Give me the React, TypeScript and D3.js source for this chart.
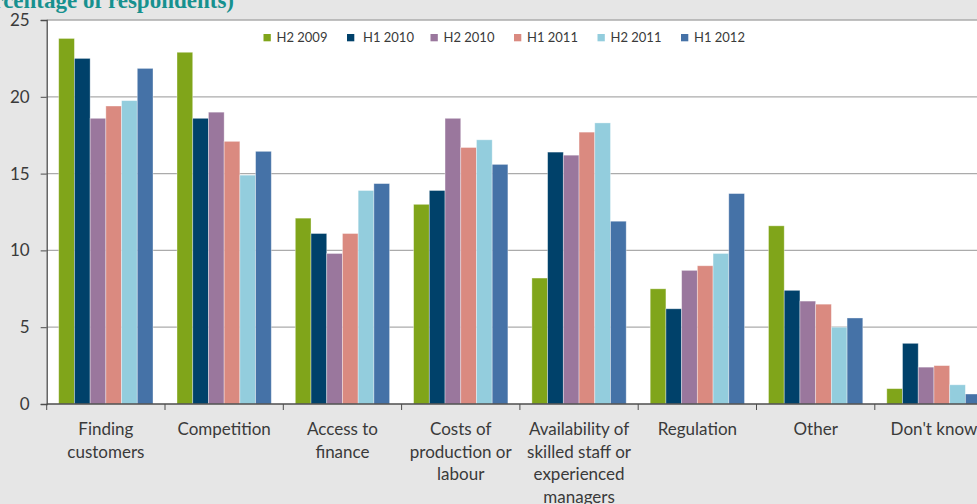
import React, { useRef, useEffect } from 'react';
import * as d3 from 'd3';

const categories = [
  ['Finding', 'customers'],
  ['Competition'],
  ['Access to', 'finance'],
  ['Costs of', 'production or', 'labour'],
  ['Availability of', 'skilled staff or', 'experienced', 'managers'],
  ['Regulation'],
  ['Other'],
  ["Don't know"],
];

const seriesNames = ['H2 2009', 'H1 2010', 'H2 2010', 'H1 2011', 'H2 2011', 'H1 2012'];
const seriesColors = ['#80A51A', '#00416A', '#9A779D', '#DA8A80', '#93CDDD', '#4572A7'];

const h2_2009 = [23.8, 22.9, 12.1, 13.0, 8.2, 7.5, 11.6, 1.0];
const h1_2010 = [22.5, 18.6, 11.1, 13.9, 16.4, 6.2, 7.4, 3.95];
const h2_2010 = [18.6, 19.0, 9.8, 18.6, 16.2, 8.7, 6.7, 2.4];
const h1_2011 = [19.4, 17.1, 11.1, 16.7, 17.7, 9.0, 6.5, 2.5];
const h2_2011 = [19.75, 14.9, 13.9, 17.2, 18.3, 9.8, 5.0, 1.25];
const h1_2012 = [21.85, 16.45, 14.35, 15.6, 11.9, 13.7, 5.6, 0.65];

const yTicks = [0, 5, 10, 15, 20, 25];

const allSeries = [h2_2009, h1_2010, h2_2010, h1_2011, h2_2011, h1_2012];

const W = 977;
const H = 504;

const App = () => {
  const svgRef = useRef(null);

  useEffect(() => {
    const svg = d3.select(svgRef.current);
    svg.selectAll('*').remove();

    const left = 46.7;
    const top = 20;
    const bottom = 404;
    const catW = 118.3;
    const right = left + catW * categories.length;

    const x0 = d3.scaleBand()
      .domain(categories.map((c, i) => String(i)))
      .range([left, right])
      .padding(0);
    const inner = 12;
    const x1 = d3.scaleBand()
      .domain(seriesNames)
      .range([inner, x0.bandwidth() - inner])
      .padding(0);
    const y = d3.scaleLinear().domain([0, 25]).range([bottom, top]);

    svg.append('rect').attr('width', W).attr('height', H).attr('fill', '#E6E6E6');
    svg.append('rect')
      .attr('x', left).attr('y', top)
      .attr('width', right - left).attr('height', bottom - top)
      .attr('fill', '#FFFFFF');

    // title, cut off at the top
    svg.append('text')
      .attr('x', 234).attr('y', 8)
      .attr('text-anchor', 'end')
      .attr('font-family', '"Liberation Serif", serif')
      .attr('font-weight', 'bold')
      .attr('font-size', 23)
      .attr('fill', '#17918F')
      .text('(Percentage of respondents)');

    // gridlines
    svg.append('g')
      .selectAll('line')
      .data(yTicks.filter(d => d > 0))
      .join('line')
      .attr('x1', left).attr('x2', right)
      .attr('y1', d => y(d)).attr('y2', d => y(d))
      .attr('stroke', '#ABABAB')
      .attr('stroke-width', 1.3);

    // bars
    const groups = svg.append('g')
      .selectAll('g')
      .data(categories)
      .join('g')
      .attr('transform', (c, i) => `translate(${x0(String(i))},0)`);

    groups.selectAll('rect')
      .data((c, i) => allSeries.map((s, k) => ({ k, v: s[i] })))
      .join('rect')
      .attr('x', d => x1(seriesNames[d.k]))
      .attr('y', d => y(d.v))
      .attr('width', x1.bandwidth())
      .attr('height', d => bottom - y(d.v))
      .attr('fill', d => seriesColors[d.k])
      .attr('stroke', '#FFFFFF')
      .attr('stroke-opacity', 0.45)
      .attr('stroke-width', 0.8);

    // y axis
    const yAxis = svg.append('g')
      .attr('transform', `translate(${left},0)`)
      .call(d3.axisLeft(y).tickValues(yTicks).tickSize(6).tickPadding(11));
    yAxis.select('.domain').attr('stroke', '#4D4D4D').attr('stroke-width', 1.3);
    yAxis.selectAll('.tick line').attr('stroke', '#4D4D4D');
    yAxis.selectAll('.tick text')
      .attr('font-family', 'Lato, sans-serif')
      .attr('font-size', 17)
      .attr('fill', '#3A3A3A');

    // x axis
    const xAxis = svg.append('g')
      .attr('transform', `translate(0,${bottom})`);
    xAxis.append('line')
      .attr('x1', left).attr('x2', right)
      .attr('stroke', '#4D4D4D').attr('stroke-width', 1.3);
    xAxis.selectAll('line.tk')
      .data(d3.range(categories.length + 1))
      .join('line')
      .attr('class', 'tk')
      .attr('x1', i => left + i * x0.step()).attr('x2', i => left + i * x0.step())
      .attr('y1', 0).attr('y2', 6)
      .attr('stroke', '#4D4D4D');

    const labels = xAxis.selectAll('text.cat')
      .data(categories)
      .join('text')
      .attr('class', 'cat')
      .attr('text-anchor', 'middle')
      .attr('font-family', 'Lato, sans-serif')
      .attr('font-size', 17)
      .attr('fill', '#3A3A3A')
      .attr('transform', (c, i) => `translate(${x0(String(i)) + x0.bandwidth() / 2},31)`);
    labels.selectAll('tspan')
      .data(c => c)
      .join('tspan')
      .attr('x', 0)
      .attr('y', (d, j) => j * 22.5)
      .text(d => d);

    // legend
    const legend = svg.append('g');
    const items = legend.selectAll('g')
      .data(seriesNames)
      .join('g')
      .attr('transform', (d, i) => `translate(${263.5 + i * 83.5},34)`);
    items.append('rect')
      .attr('width', 7.3).attr('height', 7.3)
      .attr('fill', (d, i) => seriesColors[i]);
    items.append('text')
      .attr('x', (d, i) => (i === 1 ? 16 : 13)).attr('y', 8)
      .attr('font-family', 'Lato, sans-serif')
      .attr('font-size', 13)
      .attr('fill', '#3A3A3A')
      .text(d => d);
  }, []);

  return (
    <svg
      ref={svgRef}
      width={W}
      height={H}
      style={{ position: 'absolute', left: 0, top: 0 }}
    />
  );
};

export default App;
